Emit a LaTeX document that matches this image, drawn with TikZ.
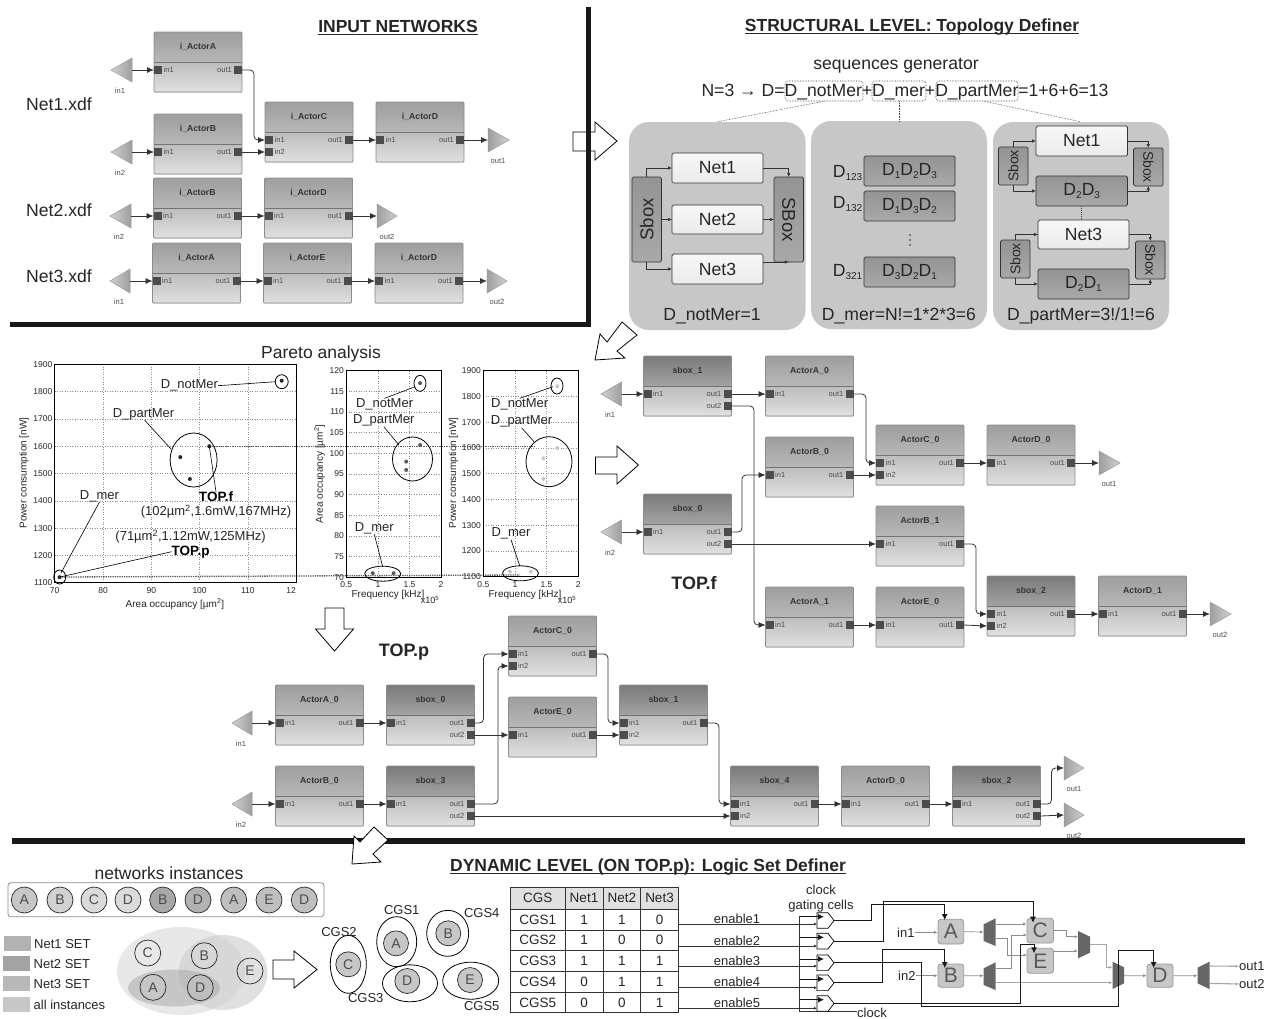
\documentclass[tikz,border=0pt]{standalone}
\usepackage{fontspec}
\setmainfont{Liberation Sans}
\usetikzlibrary{arrows.meta,calc}
\newcommand\fs[1]{\fontsize{#1}{#1}\selectfont}
\newcommand\sbs[1]{\raisebox{-3pt}{\fs{10}#1}}
\definecolor{ink}{HTML}{333333}
\tikzset{
 x=1pt,y=-1pt,
 blk/.style={draw=black!45,line width=.7pt,rounded corners=1.2pt,minimum width=88pt,minimum height=60pt,inner sep=0pt,outer sep=0pt},
 acthead/.style={top color=black!38,bottom color=black!28},
 sbxhead/.style={top color=black!52,bottom color=black!36},
 bodysh/.style={top color=black!26,bottom color=black!12},
 acttitle/.style={font=\fs{8.7}\bfseries,text=ink,inner sep=0pt},
 port/.style={fill=black!70,minimum size=8pt,inner sep=0pt,outer sep=0pt},
 portlab/.style={font=\fs{7.5},text=black!70,inner sep=0pt},
 gate/.style={draw=black!40,line width=.5pt,left color=black!18,right color=black!38},
 wire/.style={draw=black!80,line width=.8pt,-{Latex[length=7pt,width=6pt]}},
 bigarrow/.style={draw=black,line width=.8pt,fill=white},
 bar/.style={fill=black!90},
 ttl/.style={font=\fs{17.5}\bfseries,text=black!85,inner sep=0pt,anchor=base},
 ul/.style={draw=black!85,line width=.9pt},
 big/.style={font=\fs{17.6},text=black!85,inner sep=0pt},
 panel/.style={fill=black!22,rounded corners=20pt},
 nbox/.style={draw=black!80,line width=.7pt,rounded corners=1.5pt,top color=black!3,bottom color=black!8,inner sep=0pt,outer sep=0pt},
 dbox/.style={draw=black!80,line width=.7pt,rounded corners=1.5pt,top color=black!42,bottom color=black!34,inner sep=0pt,outer sep=0pt},
 mini/.style={draw=black!80,line width=.7pt,-{Latex[length=4pt,width=3.5pt]}},
 dbx/.style={draw=black!80,densely dotted,line width=.6pt,rounded corners=3pt},
 dl/.style={draw=black!75,densely dotted,line width=.6pt},
 gridln/.style={draw=black!45,dotted,line width=.5pt},
 frameb/.style={draw=black,line width=1pt},
 tick/.style={font=\fs{8.5},text=black!85,inner sep=0pt},
 axl/.style={font=\fs{10},text=black!85,inner sep=0pt},
 plab/.style={font=\fs{13},text=black!85,inner sep=0pt},
 plabb/.style={font=\fs{13.5}\bfseries,text=black,inner sep=0pt},
 lead/.style={draw=black,line width=.6pt},
 oval/.style={draw=black,line width=.8pt},
 inst/.style={circle,draw=black!85,line width=.7pt,minimum size=26pt,inner sep=0pt,font=\fs{14},text=black!70},
 small/.style={font=\fs{13},text=black!85,inner sep=0pt},
 cell/.style={font=\fs{13.5},text=black!85,inner sep=0pt},
 gc/.style={draw=black,line width=.7pt,fill=white},
 ck/.style={draw=black!90,line width=.9pt,-{Latex[length=6pt,width=6pt]}},
 en/.style={draw=black!80,line width=.9pt},
 gw/.style={draw=black!45,line width=.7pt,-{Latex[length=3.5pt,width=3pt]}},
 gwt/.style={draw=black!35,line width=1.1pt,-{Latex[length=3.5pt,width=3pt]}},
 mux/.style={fill=black!60},
 ablk/.style={draw=black!40,line width=.8pt,rounded corners=3pt,fill=black!22,inner sep=0pt,font=\fs{21},text=black!65},
}
% blocks ------------------------------------------------------
\newcommand\actor[5]{%
 \coordinate (#1-o) at (#2,#3);
 \path[#5] (#1-o) rectangle ++(88,30);
 \path[bodysh] ($(#1-o)+(0,30)$) rectangle ++(88,30);
 \draw[black!55,line width=.7pt] ($(#1-o)+(0,30)$) -- ++(88,0);
 \node[blk,anchor=north west] (#1) at (#1-o) {};
 \node[acttitle] (#1-t) at ($(#1-o)+(44,15)$) {#4};
}
\newcommand\pinl[3]{\node[port] (#1-#2) at ($(#1-o)+(4,#3)$) {};
 \node[portlab,anchor=west] (#1-#2-l) at ($(#1-o)+(9.5,#3)$) {#2};}
\newcommand\pinr[3]{\node[port] (#1-#2) at ($(#1-o)+(84,#3)$) {};
 \node[portlab,anchor=east] (#1-#2-l) at ($(#1-o)+(78,#3)$) {#2};}
\newcommand\aone[5]{\actor{#1}{#2}{#3}{#4}{#5}\pinl{#1}{in1}{38}\pinr{#1}{out1}{38}}
\newcommand\atwo[5]{\aone{#1}{#2}{#3}{#4}{#5}\pinl{#1}{in2}{50}}
\newcommand\asbx[5]{\aone{#1}{#2}{#3}{#4}{#5}\pinr{#1}{out2}{50}}
\newcommand\ingate[5]{%id tip base y label
 \path[gate] (#2,#4) -- (#3,#4-12) -- (#3,#4+12) -- cycle;
 \coordinate (#1) at (#3,#4);
 \node[portlab] (#1-l) at (#2+9,#4+21) {#5};}
\newcommand\outgate[5]{%id base tip y label
 \path[gate,left color=black!38,right color=black!18] (#3,#4) -- (#2,#4-12) -- (#2,#4+12) -- cycle;
 \coordinate (#1) at (#2,#4);
 \node[portlab] (#1-l) at (#2+10,#4+21) {#5};}
\newcommand\hw[2]{\draw[wire] (#1.east) -- (#2.west);}
\newcommand\vw[3]{\coordinate (xc) at (#3,0);
 \draw[wire,rounded corners=4pt] (#1.east) -- (#1.east -| xc) -- (#2.west -| xc) -- (#2.west);}
\newcommand\bx[6]{\node[#6,minimum width={(#4-#2)*1pt},minimum height={(#5-#3)*1pt}] (#1) at ({(#2+#4)/2},{(#3+#5)/2}) {};}
\newcommand\pnt[3]{\fill[#3] (#1,#2) circle[radius=2pt];}
\newcommand\ov[4]{\draw[oval] (#1,#2) ellipse[x radius=#3pt,y radius=#4pt];}
\begin{document}
\begin{tikzpicture}
\useasboundingbox (0,0) rectangle (1266,1018);
\fill[white] (0,0) rectangle (1266,1018);
% hollow arrow under the divider
\draw[bigarrow] (573,132) -- (595,132) -- (595,122) -- (617,141) -- (595,160) -- (595,151) -- (573,151) -- cycle;
% dividers
\fill[bar] (585.5,7) rectangle (591,327);
\fill[bar] (10,322) rectangle (591,327);
\fill[bar] (12,838) rectangle (1245,844);
% titles
\node[ttl] (tInput) at (398,32) {INPUT NETWORKS};
\draw[ul] ($(tInput.base west)+(0,2)$) -- ($(tInput.base east)+(0,2)$);
\node[ttl] (tStruct) at (912,31) {STRUCTURAL LEVEL: Topology Definer};
\draw[ul] ($(tStruct.base west)+(0,2)$) -- ($(tStruct.base east)+(0,2)$);
\node[ttl] (tDyn) at (648,871) {DYNAMIC LEVEL (ON TOP.p): Logic Set Definer};
\draw[ul] ($(tDyn.base west)+(0,2)$) -- ($(tDyn.base east)+(0,2)$);
% ---------- INPUT NETWORKS
\node[big] (n1x) at (59,104) {Net1.xdf};
\node[big] (n2x) at (59,210) {Net2.xdf};
\node[big] (n3x) at (59,276) {Net3.xdf};
\aone{a1}{154}{32}{i\_ActorA}{acthead}
\aone{a2}{154}{114}{i\_ActorB}{acthead}
\atwo{a3}{265}{102}{i\_ActorC}{acthead}
\aone{a4}{376}{102}{i\_ActorD}{acthead}
\ingate{a5}{111}{132}{70}{in1}
\ingate{a6}{111}{132}{152}{in2}
\outgate{a7}{488}{509}{140}{out1}
\hw{a5}{a1-in1}\hw{a6}{a2-in1}\hw{a2-out1}{a3-in2}\hw{a3-out1}{a4-in1}\hw{a4-out1}{a7}
\vw{a1-out1}{a3-in1}{254}
\aone{b1}{153.5}{178}{i\_ActorB}{acthead}
\aone{b2}{264.5}{178}{i\_ActorD}{acthead}
\ingate{b3}{110}{131}{216}{in2}
\outgate{b4}{377}{397}{216}{out2}
\hw{b3}{b1-in1}\hw{b1-out1}{b2-in1}\hw{b2-out1}{b4}
\aone{c1}{152.5}{243}{i\_ActorA}{acthead}
\aone{c2}{263.5}{243}{i\_ActorE}{acthead}
\aone{c3}{375}{243}{i\_ActorD}{acthead}
\ingate{c4}{110}{130}{281}{in1}
\outgate{c5}{487}{507}{281}{out2}
\hw{c4}{c1-in1}\hw{c1-out1}{c2-in1}\hw{c2-out1}{c3-in1}\hw{c3-out1}{c5}
% ---------- hollow arrows
\draw[bigarrow] (595,360) -- (625,358) -- (617,351) -- (637,335) -- (622,322) -- (607,342) -- (600,334) -- cycle;
\draw[bigarrow] (595.5,457) -- (617,457) -- (617,446) -- (638.4,465) -- (617,484) -- (617,474) -- (595.5,474) -- cycle;
\draw[bigarrow] (325,608) -- (344,608) -- (344,629) -- (353.5,629) -- (334.5,651) -- (315.5,629) -- (325,629) -- cycle;
\draw[bigarrow] (352,864) -- (381,862) -- (373,854) -- (388,840) -- (374,827) -- (360,842) -- (354,836) -- cycle;
\draw[bigarrow] (273,960) -- (294,960) -- (294,951) -- (317,969.5) -- (294,988) -- (294,979) -- (273,979) -- cycle;
% ---------- STRUCTURAL
\node[big] (sg) at (896,66) {sequences generator};
\node[big] (eq) at (905,92) {N=3 → D=D\_notMer+D\_mer+D\_partMer=1+6+6=13};
\bx{q1}{785}{81}{863}{101}{dbx}
\bx{q2}{872}{81}{926}{101}{dbx}
\bx{q3}{936}{81}{1018}{101}{dbx}
\bx{P1}{629}{122}{805.5}{330}{panel}
\bx{P2}{811}{121}{987}{329}{panel}
\bx{P3}{993}{122}{1169}{330}{panel}
\draw[dl] (q1.south) -- (P1.north);
\draw[dl] (q2.south) -- (P2.north -| q2.south);
\draw[dl] ($(q3.south)+(7,0)$) -- (P3.north);
% panel 1
\bx{P1L}{632}{177}{661.5}{262}{dbox}
\bx{P1R}{774}{177}{803.5}{262}{dbox}
\bx{P1N1}{672}{153}{763}{183}{nbox}
\bx{P1N2}{672}{205}{763}{234}{nbox}
\bx{P1N3}{672}{254}{763}{284}{nbox}
\node[font=\fs{18.5},text=black!85,rotate=90,inner sep=0pt] (P1Lt) at (P1L) {Sbox};
\node[font=\fs{18.5},text=black!85,rotate=-90,inner sep=0pt] (P1Rt) at (P1R) {SBox};
\node[big] (P1N1t) at (P1N1) {Net1};
\node[big] (P1N2t) at (P1N2) {Net2};
\node[big] (P1N3t) at (P1N3) {Net3};
\draw[mini] (P1L.north) |- (P1N1.west);
\draw[mini] (P1L.east |- P1N2.west) -- (P1N2.west);
\draw[mini] (P1L.south) |- (P1N3.west);
\draw[mini] (P1N1.east) -| ($(P1R.north)$);
\draw[mini] (P1N2.east) -- (P1R.west |- P1N2.east);
\draw[mini] ($(P1N3.north east)+(0,8)$) -- (P1R.south);
\node[big] (P1c) at (712,316) {D\_notMer=1};
% panel 2
\bx{P2a}{864}{156}{955}{186}{dbox}
\bx{P2b}{864}{191}{955}{221}{dbox}
\bx{P2c}{864}{257}{955}{287}{dbox}
\node[big] (P2at) at (P2a) {D\sbs{1}D\sbs{2}D\sbs{3}};
\node[big] (P2bt) at (P2b) {D\sbs{1}D\sbs{3}D\sbs{2}};
\node[big] (P2ct) at (P2c) {D\sbs{3}D\sbs{2}D\sbs{1}};
\node[big,anchor=east] (P2al) at (862.5,173) {D\sbs{123}};
\node[big,anchor=east] (P2bl) at (862.5,204) {D\sbs{132}};
\node[big,anchor=east] (P2cl) at (862.5,272) {D\sbs{321}};
\fill[black!85] (910,235) circle[radius=.9pt] (910,240) circle[radius=.9pt] (910,245) circle[radius=.9pt];
\node[big] (P2cap) at (899,316) {D\_mer=N!=1*2*3=6};
% panel 3
\bx{P3n1}{1036}{126}{1127.5}{156}{nbox}
\bx{P3d1}{1036}{176}{1127.5}{206}{dbox}
\bx{P3sl}{998.5}{147}{1028}{185}{dbox}
\bx{P3sr}{1133.5}{148}{1163}{186}{dbox}
\bx{P3n3}{1038}{220}{1129}{249}{nbox}
\bx{P3d3}{1038}{269}{1129}{299}{dbox}
\bx{P3tl}{1000.5}{240}{1030}{278}{dbox}
\bx{P3tr}{1135.5}{241}{1165}{279}{dbox}
\node[big] (P3n1t) at (P3n1) {Net1};
\node[big] (P3d1t) at (P3d1) {D\sbs{2}D\sbs{3}};
\node[big] (P3n3t) at (P3n3) {Net3};
\node[big] (P3d3t) at (P3d3) {D\sbs{2}D\sbs{1}};
\node[font=\fs{14},text=black!85,rotate=90,inner sep=0pt] (P3slt) at (P3sl) {Sbox};
\node[font=\fs{14},text=black!85,rotate=-90,inner sep=0pt] (P3srt) at (P3sr) {Sbox};
\node[font=\fs{14},text=black!85,rotate=90,inner sep=0pt] (P3tlt) at (P3tl) {Sbox};
\node[font=\fs{14},text=black!85,rotate=-90,inner sep=0pt] (P3trt) at (P3tr) {Sbox};
\draw[mini] (P3sl.north) |- (P3n1.west);
\draw[mini] (P3sl.south) |- (P3d1.west);
\draw[mini] (P3n1.east) -| (P3sr.north);
\draw[mini] ($(P3d1.north east)+(0,15)$) -| (P3sr.south);
\draw[mini] (P3tl.north) |- (P3n3.west);
\draw[mini] (P3tl.south) |- (P3d3.west);
\draw[mini] (P3n3.east) -| (P3tr.north);
\draw[mini] ($(P3d3.north east)+(0,15)$) -| (P3tr.south);
\draw[dl,line width=1pt] (P3d1.south) -- (P3n3.north -| P3d1.south);
\node[big] (P3cap) at (1081,316) {D\_partMer=3!/1!=6};
% ---------- PARETO
\node[font=\fs{17.5},text=black!85,inner sep=0pt] (pa) at (321,354) {Pareto analysis};
\foreach \v in {1100,1200,...,1900}{
 \draw[gridln] (54.7,{582.7-(\v-1100)*0.273}) -- (296,{582.7-(\v-1100)*0.273});
 \node[tick,anchor=east] (ay\v) at (52.5,{582.7-(\v-1100)*0.273}) {\v};}
\foreach \v in {70,80,...,110}{
 \draw[gridln] ({54.7+(\v-70)*4.83},364.3) -- ({54.7+(\v-70)*4.83},582.7);
 \node[tick] (ax\v) at ({54.7+(\v-70)*4.83},590.5) {\v};}
\node[tick,anchor=east] (ax120) at (296,590.5) {12};
\node[axl,rotate=90] (ayl) at (24,473) {Power consumption [nW]};
\node[axl] (axl) at (175,604) {Area occupancy [µm\textsuperscript{2}]};
\foreach \v in {70,75,...,120}{
 \draw[gridln] (346.3,{577.3-(\v-70)*4.132}) -- (441,{577.3-(\v-70)*4.132});
 \node[tick,anchor=east] (by\v) at (344,{577.3-(\v-70)*4.132}) {\v};}
\foreach \i/\t in {0/0.5,1/1,2/1.5,3/2}{
 \draw[gridln] ({346.3+\i*31.57},370.7) -- ({346.3+\i*31.57},577.3);
 \node[tick] (bx\i) at ({346.3+\i*31.57},585) {\t};}
\node[axl,rotate=90] (byl) at (319.6,474) {Area occupancy [µm\textsuperscript{2}]};
\node[axl] (bxl) at (388,595) {Frequency [kHz]};
\node[tick,font=\fs{9}] (bxe) at (430,600) {x10\textsuperscript{5}};
\foreach \v in {1100,1200,...,1900}{
 \draw[gridln] (483.4,{576.7-(\v-1100)*0.2575}) -- (578,{576.7-(\v-1100)*0.2575});
 \node[tick,anchor=east] (cy\v) at (481,{576.7-(\v-1100)*0.2575}) {\v};}
\foreach \i/\t in {0/0.5,1/1,2/1.5,3/2}{
 \draw[gridln] ({483.4+\i*31.57},370.7) -- ({483.4+\i*31.57},576.7);
 \node[tick] (cx\i) at ({483.4+\i*31.57},585) {\t};}
\node[axl,rotate=90] (cyl) at (453.5,473) {Power consumption [nW]};
\node[axl] (cxl) at (525,595) {Frequency [kHz]};
\node[tick,font=\fs{9}] (cxe) at (567,600) {x10\textsuperscript{5}};
% guide lines
\draw[black!65,densely dotted,line width=1.3pt] (209.3,446.2) -- (535,446.2);
\draw[black!65,densely dotted,line width=1.3pt] (59.5,577) -- (520,575);
% frames
\draw[frameb] (54.7,364.3) rectangle (296,582.7);
\draw[frameb] (346.3,370.7) rectangle (441,577.3);
\draw[frameb] (483.4,370.7) rectangle (578,576.7);
% points
\pnt{281.7}{380.7}{black!85}\pnt{180.3}{457.1}{black!85}\pnt{189.9}{479}{black!85}\pnt{209.3}{446.2}{black!85}\pnt{59.5}{577.2}{black!85}
\pnt{420.1}{383.1}{black!65}\pnt{420.1}{445}{black!65}\pnt{406.2}{461.6}{black!65}\pnt{406.2}{469.9}{black!65}\pnt{372.8}{573.2}{black!65}\pnt{393.6}{573.2}{black!65}
\pnt{557.2}{386.2}{black!22}\pnt{557.2}{448}{black!22}\pnt{543.3}{458.3}{black!22}\pnt{543.3}{478.9}{black!22}\pnt{509.9}{571.6}{black!22}\pnt{530.7}{571.6}{black!22}
% ovals
\ov{281.7}{381.7}{6.5}{7}\ov{193.6}{460}{23.5}{27}\ov{59.7}{577}{6}{7}
\ov{420}{383.3}{6}{8}\ov{412.5}{459}{20}{22}\ov{382.7}{573.7}{18}{7.5}
\ov{557}{386}{6}{8}\ov{549}{461.7}{23}{25}\ov{520.5}{573.3}{18}{7.5}
% plot 1 labels
\node[plab] (l1a) at (189.4,385.7) {D\_notMer};
\node[plab] (l1b) at (143.5,414) {D\_partMer};
\node[plabb] (l1c) at (216,497) {TOP.f};
\node[plab] (l1d) at (216,511.7) {(102µm\textsuperscript{2},1.6mW,167MHz)};
\node[plab] (l1e) at (190.6,536.7) {(71µm\textsuperscript{2},1.12mW,125MHz)};
\node[plabb] (l1f) at (190.6,551.7) {TOP.p};
\node[plab] (l1g) at (99.5,496) {D\_mer};
\draw[lead] (l1a.east) -- (275.5,381.7);
\draw[lead] (l1b.south) ++(1,0) -- (171,449);
\draw[lead] (209.3,446.2) -- (l1c.north);
\draw[lead] (l1f.west) -- (60,577);
\draw[lead] (l1g.south) -- (61,573);
% plot 2 labels
\node[plab] (l2a) at (384.6,404.3) {D\_notMer};
\node[plab] (l2b) at (383.8,420.7) {D\_partMer};
\node[plab] (l2c) at (374.3,528.3) {D\_mer};
\draw[lead] (l2a.north) -- (415,386.7);
\draw[lead] (l2b.south) -- (399,445);
\draw[lead] (l2c.south) -- (382.7,566.7);
% plot 3 labels
\node[plab] (l3a) at (519.7,404.3) {D\_notMer};
\node[plab] (l3b) at (521.6,421.7) {D\_partMer};
\node[plab] (l3c) at (511,533.7) {D\_mer};
\draw[lead] (l3a.north) -- (553,386.7);
\draw[lead] (l3b.south) -- (534,441.7);
\draw[lead] (l3c.south) -- (519.7,565.7);
% ---------- TOP.f
\asbx{f1}{643.5}{356}{sbox\_1}{sbxhead}
\aone{f2}{765.5}{356}{ActorA\_0}{acthead}
\aone{f3}{765.5}{437}{ActorB\_0}{acthead}
\atwo{f4}{876}{425}{ActorC\_0}{acthead}
\aone{f5}{987}{425}{ActorD\_0}{acthead}
\asbx{f6}{643.5}{494}{sbox\_0}{sbxhead}
\aone{f7}{876}{506}{ActorB\_1}{acthead}
\aone{f8}{765.5}{587}{ActorA\_1}{acthead}
\aone{f9}{876}{587}{ActorE\_0}{acthead}
\atwo{f10}{987}{576}{sbox\_2}{sbxhead}
\aone{f11}{1098.5}{576}{ActorD\_1}{acthead}
\ingate{f12}{601}{621.5}{394}{in1}
\ingate{f13}{601}{621.5}{532}{in2}
\outgate{f14}{1099}{1120}{463}{out1}
\outgate{f15}{1210}{1231}{614}{out2}
\node[font=\fs{18}\bfseries,text=black!85,inner sep=0pt] (ftxt) at (694,582.7) {TOP.f};
\hw{f12}{f1-in1}\hw{f13}{f6-in1}\hw{f1-out1}{f2-in1}
\vw{f1-out2}{f8-in1}{754}
\vw{f2-out1}{f4-in1}{866}
\hw{f3-out1}{f4-in2}\hw{f4-out1}{f5-in1}\hw{f5-out1}{f14}
\vw{f6-out1}{f3-in1}{742}
\hw{f6-out2}{f7-in1}
\vw{f7-out1}{f10-in1}{976}
\hw{f8-out1}{f9-in1}\hw{f9-out1}{f10-in2}\hw{f10-out1}{f11-in1}\hw{f11-out1}{f15}
% ---------- TOP.p
\aone{p1}{275.5}{685}{ActorA\_0}{acthead}
\asbx{p2}{386.5}{685}{sbox\_0}{sbxhead}
\atwo{p3}{508.5}{616}{ActorC\_0}{acthead}
\aone{p4}{508.5}{697}{ActorE\_0}{acthead}
\atwo{p5}{619.5}{685}{sbox\_1}{sbxhead}
\aone{p6}{275.5}{766}{ActorB\_0}{acthead}
\asbx{p7}{386.5}{766}{sbox\_3}{sbxhead}
\atwo{p8}{730.5}{766}{sbox\_4}{sbxhead}
\aone{p9}{841.5}{766}{ActorD\_0}{acthead}
\asbx{p10}{952.5}{766}{sbox\_2}{sbxhead}
\ingate{p11}{232}{252}{723}{in1}
\ingate{p12}{232}{252}{804}{in2}
\outgate{p13}{1064}{1084}{768}{out1}
\outgate{p14}{1064}{1084}{815}{out2}
\node[font=\fs{18}\bfseries,text=black!85,inner sep=0pt] (ptxt) at (404,651.7) {TOP.p};
\hw{p11}{p1-in1}\hw{p1-out1}{p2-in1}
\vw{p2-out1}{p3-in1}{483.5}
\hw{p2-out2}{p4-in1}
\hw{p12}{p6-in1}\hw{p6-out1}{p7-in1}
\vw{p7-out1}{p3-in2}{498}
\hw{p7-out2}{p8-in2}
\vw{p3-out1}{p5-in1}{608}
\hw{p4-out1}{p5-in2}
\vw{p5-out1}{p8-in1}{719}
\hw{p8-out1}{p9-in1}\hw{p9-out1}{p10-in1}
\vw{p10-out1}{p13}{1051.5}
\hw{p10-out2}{p14}
% ---------- networks instances
\node[big,font=\fs{17.5}] (ni) at (169,873) {networks instances};
\draw[black!45,line width=.8pt,rounded corners=3pt,fill=white] (8,882.7) rectangle (324,916.7);
\foreach \n/\x/\l/\c in {i1/24.3/A/22,i2/60/B/18,i3/94/C/14,i4/128/D/14,i5/162.7/B/34,i6/198/D/30,i7/233.7/A/25,i8/269/E/25,i9/304.3/D/25}
 {\node[inst,fill=black!\c] (\n) at (\x,900) {\l};}
\fill[black!30] (4,936) rectangle (31,950.7);
\fill[black!36] (3,955.7) rectangle (30,971);
\fill[black!28] (3,975.7) rectangle (30,991);
\fill[black!22] (3,996.7) rectangle (30,1012);
\node[small,anchor=west] (lg1) at (34,944.3) {Net1 SET};
\node[small,anchor=west] (lg2) at (33.5,964) {Net2 SET};
\node[small,anchor=west] (lg3) at (33.5,983.7) {Net3 SET};
\node[small,anchor=west] (lg4) at (33.5,1004.7) {all instances};
\fill[black!9] (181,971) ellipse[x radius=64pt,y radius=44pt];
\fill[black!20,opacity=.6] (223,972.5) ellipse[x radius=44.5pt,y radius=37.5pt];
\fill[black!35,opacity=.5] (174,988) ellipse[x radius=46pt,y radius=18.5pt];
\foreach \n/\x/\y/\l in {v1/147.7/953/C,v2/204.3/955.7/B,v3/250/971/E,v4/153/987.3/A,v5/200.3/987.7/D}
 {\node[inst] (\n) at (\x,\y) {\l};}
% CGS groups
\foreach \n/\x/\y/\l in {g1/396/943.3/A,g2/348.3/964.3/C,g3/407.3/981/D,g4/448.3/933.3/B,g5/470/980/E}
 {\node[inst,fill=black!22,minimum size=25pt] (\n) at (\x,\y) {\l};}
\ov{396.7}{941.7}{20}{25}\ov{348.3}{964.3}{18}{29}\ov{410}{983.3}{27.5}{18.5}\ov{447.7}{933.3}{21}{23}\ov{470.7}{980.7}{28}{18.5}
\node[small] (cg1) at (401.7,910) {CGS1};
\node[small] (cg2) at (339,932) {CGS2};
\node[small] (cg3) at (365.7,998.3) {CGS3};
\node[small] (cg4) at (481.7,912.7) {CGS4};
\node[small] (cg5) at (481.7,1006) {CGS5};
% table
\fill[black!12] (510.7,887.3) rectangle (678.3,909.3);
\draw[black!80,line width=.8pt] (510.7,887.3) rectangle (678.3,1012.7);
\foreach \x in {565,603,640.7}{\draw[black!80,line width=.8pt] (\x,887.3) -- (\x,1012.7);}
\foreach \y in {909.3,930,950.7,971.7,992.3}{\draw[black!80,line width=.8pt] (510.7,\y) -- (678.3,\y);}
\foreach \r/\y/\a/\b/\c/\d in {0/898.3/CGS/Net1/Net2/Net3,1/919.7/CGS1/1/1/0,2/940.3/CGS2/1/0/0,3/961.2/CGS3/1/1/1,4/982/CGS4/0/1/1,5/1002.5/CGS5/0/0/1}
 {\node[cell] (t\r a) at (537.8,\y) {\a};
  \node[cell] (t\r b) at (584,\y) {\b};
  \node[cell] (t\r c) at (621.8,\y) {\c};
  \node[cell] (t\r d) at (659.5,\y) {\d};}
% clock bus + gating cells
\coordinate (bus) at (799.5,916);
\coordinate (busb) at (799.5,1011.7);
\coordinate (clkend) at (856.6,1011.7);
\draw[en] (bus) -- (busb) -- (clkend);
\node[cell,font=\fs{13},anchor=west] (clk) at (857,1013) {clock};
\node[cell,font=\fs{13},align=center] (gct) at (821,898.5) {clock\\[2.5pt]gating cells};
\foreach \i/\yt/\yr/\ty/\txt in {1/912.7/924/919/enable1,2/933.3/946/940.7/enable2,3/955/966/960.7/enable3,4/975/987.7/982.3/enable4,5/995.7/1008.3/1002.7/enable5}{
 \draw[gc] (817,\yt) -- (828,\yt) -- (834,\yt+7.8) -- (828,\yt+15.6) -- (817,\yt+15.6) -- cycle;
 \coordinate (gc\i) at (834,\yt+7.8);
 \coordinate (gk\i) at (824,\yt+4);
 \coordinate (gi\i) at (817,\yr);
 \coordinate (ro\i) at (678.3,\yr);
 \draw[ck] (bus |- gk\i) -- (gk\i);
 \draw[en,-{Latex[length=3pt,width=3pt]}] (ro\i) -- (gi\i);
 \node[cell,font=\fs{13}] (en\i) at (737,\ty) {\txt};
}
% dynamic nodes
\bx{dA}{938}{919.3}{963.7}{944}{ablk}
\bx{dB}{938}{964}{963.7}{987.3}{ablk}
\bx{dC}{1027}{918.3}{1053.5}{943}{ablk}
\bx{dE}{1027}{948.3}{1053.5}{973.3}{ablk}
\bx{dD}{1147}{964}{1173}{987.3}{ablk}
\node[font=\fs{21},text=black!65,inner sep=0pt] (dAt) at (dA) {A};
\node[font=\fs{21},text=black!65,inner sep=0pt] (dBt) at (dB) {B};
\node[font=\fs{21},text=black!65,inner sep=0pt] (dCt) at (dC) {C};
\node[font=\fs{21},text=black!65,inner sep=0pt] (dEt) at (dE) {E};
\node[font=\fs{21},text=black!65,inner sep=0pt] (dDt) at (dD) {D};
% muxes
\fill[mux] (983.7,924.3) -- (995.6,918.3) -- (995.6,946) -- (983.7,941) -- cycle;
\fill[mux] (983.7,968.3) -- (995.6,962.3) -- (995.6,990) -- (983.7,985) -- cycle;
\fill[mux] (1078,931) -- (1090,936.7) -- (1090,952.7) -- (1078,958.3) -- cycle;
\fill[mux] (1112.5,961.7) -- (1124,967.3) -- (1124,983.3) -- (1112.5,989) -- cycle;
\fill[mux] (1197.5,967.7) -- (1209.5,961.7) -- (1209.5,989) -- (1197.5,983.3) -- cycle;
\coordinate (m1a) at (995.6,924); \coordinate (m1b) at (995.6,938.3);
\coordinate (m1i) at (983.7,932);
\coordinate (m2a) at (995.6,968.3); \coordinate (m2b) at (995.6,982.7);
\coordinate (m2i) at (983.7,975.7);
\coordinate (m3a) at (1078,936.7); \coordinate (m3b) at (1078,951); \coordinate (m3o) at (1090,944.7);
\coordinate (m4a) at (1112.5,967.3); \coordinate (m4b) at (1112.5,982.7); \coordinate (m4o) at (1124,975.7);
\coordinate (m5i) at (1197.5,975.7); \coordinate (m5a) at (1209.5,966); \coordinate (m5b) at (1209.5,983.3);
\node[cell,font=\fs{13}] (in1t) at (905.8,932.3) {in1};
\node[cell,font=\fs{13}] (in2t) at (906.8,975.7) {in2};
\node[cell,font=\fs{13},anchor=west] (o1t) at (1239,966.3) {out1};
\node[cell,font=\fs{13},anchor=west] (o2t) at (1239,984) {out2};
\draw[gw] (in1t.east) -- (dA.west |- in1t.east);
\draw[gw] (in2t.east) -- (dB.west |- in2t.east);
\draw[gw] (dA.east) -- (m1i);
\draw[gw] (dB.east) -- (m2i);
\draw[gw] (m1a) -- (dC.west |- m1a);
\draw[gw] (m1b) -- (1007.5,938.3) -- (1007.5,955) -- (1027,955);
\draw[gw] (m2a) -- (1011,968.3) -- (1011,935) -- (1027,935);
\draw[gwt] (m2b) -- (m4b);
\draw[gw] (1053.5,930.7) -- (1066.8,930.7) -- (1066.8,936.7) -- (m3a);
\draw[gw] (1053.5,951) -- (m3b);
\draw[gwt] (m3o) -- (1106.8,944.7) -- (1106.8,967.3) -- (m4a);
\draw[gw] (m4o) -- (dD.west);
\draw[gw] (dD.east) -- (m5i);
\draw[gwt] (m5a) -- (o1t.west);
\draw[gwt] (m5b) -- (o2t.west);
% clock nets
\draw[ck] (gc1) -- (871,920.5) -- (871,904) -- (944.7,904) -- (944.7,920);
\draw[ck] (gc2) -- (883,941.1) -- (883,901) -- (1033,901) -- (1033,922.7);
\draw[ck] (gc4) -- (882,982.8) -- (882,949.3) -- (944.7,949.3) -- (944.7,968);
\draw[ck] (gc3) -- (921,962.8) -- (921,1006) -- (1118,1006) -- (1118,950.7) -- (1153.6,950.7) -- (1153.6,968);
\draw[ck] (gc5) -- (1020.7,1003.5) -- (1020.7,944.7) -- (1034,944.7) -- (1034,953.3);
\end{tikzpicture}
\end{document}
